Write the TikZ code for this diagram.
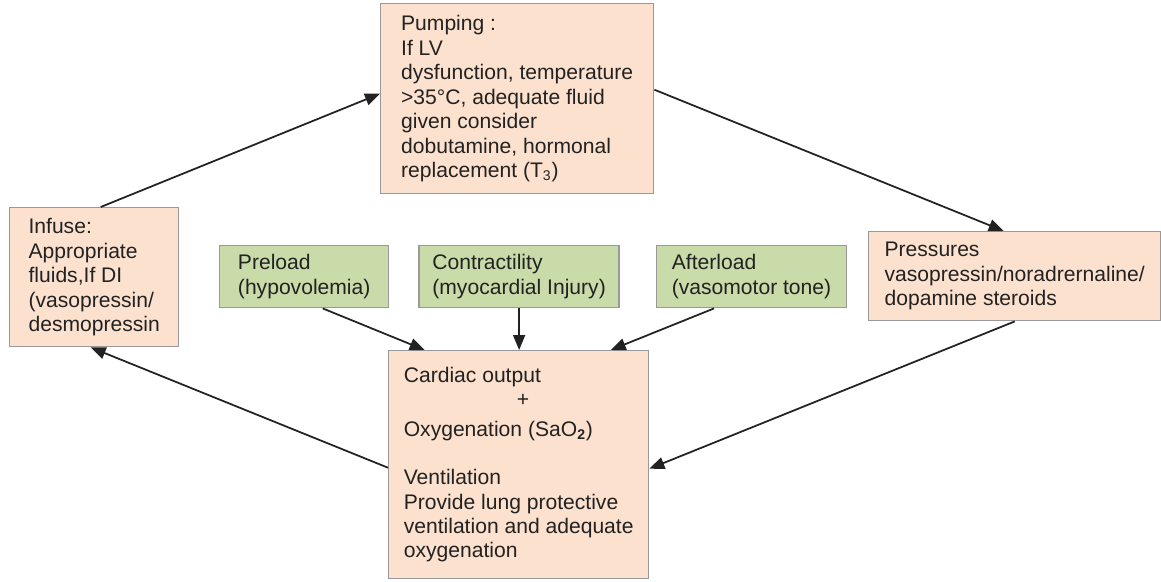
\documentclass[tikz,border=0pt]{standalone}
\usepackage{fontspec}
\setmainfont{Liberation Sans}
\usetikzlibrary{arrows.meta,positioning}
\definecolor{peach}{HTML}{FCE1CF}
\definecolor{leaf}{HTML}{C9DBA9}
\definecolor{edge}{HTML}{999999}
\definecolor{ink}{HTML}{222222}

\begin{document}
\begin{tikzpicture}[
        act/.style={draw=edge, fill=peach, line width=0.8pt, rectangle, align=left, text=ink,
                    anchor=north west, inner sep=2pt, font=\fontsize{12}{13.9}\selectfont},
        fac/.style={act, fill=leaf, minimum height=1.24cm},
        link/.style={-{Triangle[length=0.3cm, width=0.24cm]}, line width=1pt, ink}
    ]
        \useasboundingbox (0,0) rectangle (23.22,-11.62);

        \node[act, minimum width=5.46cm, minimum height=3.8cm] (pump) at (7.6,-0.06)
            {Pumping :\\If LV\\dysfunction, temperature\\>35°C, adequate fluid\\given consider\\dobutamine, hormonal\\replacement (T\textsubscript{3})};
        \node[act, minimum width=3.38cm, minimum height=2.78cm] (inf) at (0.18,-4.14)
            {Infuse:\\Appropriate\\fluids,If DI\\(vasopressin/\\desmopressin};
        \node[act, minimum width=5.84cm, minimum height=1.78cm] (pres) at (17.36,-4.62)
            {Pressures\\vasopressin/noradrernaline/\\dopamine steroids};
        \node[fac, minimum width=3.38cm] (pre) at (4.38,-4.9) {Preload\\(hypovolemia)};
        \node[fac, minimum width=4.0cm, right=0.58cm of pre] (con) {Contractility\\(myocardial Injury)};
        \node[fac, minimum width=3.8cm, right=0.72cm of con] (aft) {Afterload\\(vasomotor tone)};
        \node[act, minimum width=5.2cm, minimum height=4.56cm] (card) at (7.76,-7.0)
            {Cardiac output\\\hspace*{2.26cm}+\\[0.1cm]Oxygenation (SaO\textsubscript{\bfseries 2})\\[0.48cm]Ventilation\\Provide lung protective\\ventilation and adequate\\oxygenation};

        \draw[link] ([xshift=0.13cm]inf.north) -- ([yshift=0.1cm]pump.west);
        \draw[link] ([yshift=0.18cm]pump.east) -- ([xshift=-0.22cm]pres.north);
        \draw[link] (pres.south) -- ([yshift=-0.08cm]card.east);
        \draw[link] ([yshift=-0.06cm]card.west) -- ([xshift=-0.07cm]inf.south);
        \draw[link] ([xshift=0.37cm]pre.south) -- ([xshift=-1.88cm]card.north);
        \draw[link] (con.south) -- (con.south |- card.north);
        \draw[link] ([xshift=-0.75cm]aft.south) -- ([xshift=1.84cm]card.north);
    \end{tikzpicture}
\end{document}
